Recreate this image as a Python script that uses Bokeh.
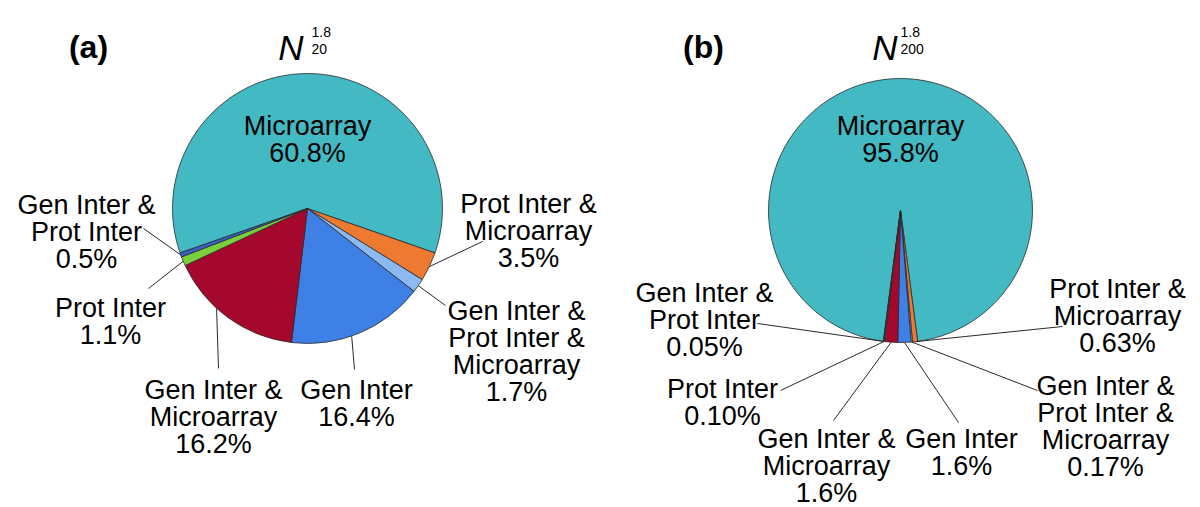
import math
from bokeh.plotting import figure
from bokeh.models import Range1d
from bokeh.core.properties import value
from bokeh.embed import file_html
from bokeh.resources import INLINE

# ---------------- data ----------------
categories = ["Microarray", "Prot Inter &\nMicroarray", "Gen Inter &\nProt Inter &\nMicroarray",
              "Gen Inter", "Gen Inter &\nMicroarray", "Prot Inter", "Gen Inter &\nProt Inter"]
values_a = [60.8, 3.5, 1.7, 16.4, 16.2, 1.1, 0.5]
pct_a = ["60.8%", "3.5%", "1.7%", "16.4%", "16.2%", "1.1%", "0.5%"]
values_b = [95.8, 0.63, 0.17, 1.6, 1.6, 0.10, 0.05]
pct_b = ["95.8%", "0.63%", "0.17%", "1.6%", "1.6%", "0.10%", "0.05%"]
colors = ["#42B9C3", "#EE7A32", "#8CBAF0", "#3F80E6", "#A4082D", "#7CCF3C", "#3462C6"]

# ---------------- layout (image pixel coordinates) ----------------
FONT = "Liberation Sans"
FS = 27
LINE_STEP = 27.3

pies = [
    dict(values=values_a, pct=pct_a, cx=307, cy=208, r=135,
         panel="(a)", panel_x=88, sub="20", n_right=303, sup_x=311,
         labels=[(307, 125), (528, 203), (516, 310), (356, 389), (213, 389), (110, 307), (86, 204)],
         ends=[None, (482, 241), (445, 305), (354, 369), (218, 368), (148, 288), (143, 228)],
         frac=[0.5, 0.5, 0.5, 0.56, 0.61, 0.5, 0.5]),
    dict(values=values_b, pct=pct_b, cx=900, cy=210, r=132,
         panel="(b)", panel_x=703, sub="200", n_right=897, sup_x=900,
         labels=[(900, 125), (1117, 288), (1105, 385), (961, 438), (826, 438), (722, 388), (704, 292)],
         ends=[None, (1062, 326), (1037, 390), (958, 422), (833, 420), (780, 390), (757, 323)],
         frac=[0.5] * 7),
]

p = figure(width=1200, height=507, output_backend="svg", toolbar_location=None,
           x_range=Range1d(0, 1200), y_range=Range1d(-507, 0),
           min_border=0, x_axis_location=None, y_axis_location=None)
p.grid.visible = False
p.outline_line_color = None
p.background_fill_color = "white"
p.border_fill_color = "white"

tx, ty, tt = [], [], []
for pie in pies:
    vals = pie["values"]
    total = sum(vals)
    cw = -vals[0] / total * math.pi  # first slice centred at top (clockwise angle from top)
    starts, ends, mids = [], [], []
    for i, v in enumerate(vals):
        a0 = cw
        a1 = cw + v / total * 2 * math.pi
        starts.append(math.pi / 2 - a1)
        ends.append(math.pi / 2 - a0)
        mids.append(a0 + (a1 - a0) * pie["frac"][i])
        cw = a1
    p.wedge(x=[pie["cx"]] * len(vals), y=[-pie["cy"]] * len(vals), radius=pie["r"],
            start_angle=starts, end_angle=ends, direction="anticlock",
            fill_color=colors, line_color="#2b2b2b", line_width=0.8)

    # leader lines
    xs, ys = [], []
    for i, e in enumerate(pie["ends"]):
        if e is None:
            continue
        rx = pie["cx"] + pie["r"] * math.sin(mids[i])
        ry = pie["cy"] - pie["r"] * math.cos(mids[i])
        xs.append([rx, e[0]])
        ys.append([-ry, -e[1]])
    p.multi_line(xs=xs, ys=ys, line_color="#2a2a2a", line_width=1)

    # labels
    for i, (lx, ly) in enumerate(pie["labels"]):
        lines = categories[i].split("\n") + [pie["pct"][i]]
        for k, s in enumerate(lines):
            tx.append(lx)
            ty.append(-(ly + k * LINE_STEP))
            tt.append(s)

    # panel letters and titles
    p.text(x=[pie["panel_x"]], y=[-46], text=[pie["panel"]], text_font=value(FONT),
           text_font_size="32px", text_font_style="bold", text_align="center",
           text_baseline="alphabetic", text_color="black")
    p.text(x=[pie["n_right"]], y=[-47], text=["N"], text_font=value(FONT),
           text_font_size="35px", text_font_style="italic", text_align="right",
           text_baseline="alphabetic", text_color="black")
    p.text(x=[pie["sup_x"]], y=[-31], text=["1.8"], text_font=value(FONT),
           text_font_size="14px", text_align="left", text_baseline="alphabetic", text_color="black")
    p.text(x=[pie["sup_x"]], y=[-48], text=[pie["sub"]], text_font=value(FONT),
           text_font_size="14px", text_align="left", text_baseline="alphabetic", text_color="black")

p.text(x=tx, y=ty, text=tt, text_font=value(FONT), text_font_size=f"{FS}px",
       text_align="center", text_baseline="alphabetic", text_color="black")

open("out.html", "w").write(file_html(p, INLINE))
